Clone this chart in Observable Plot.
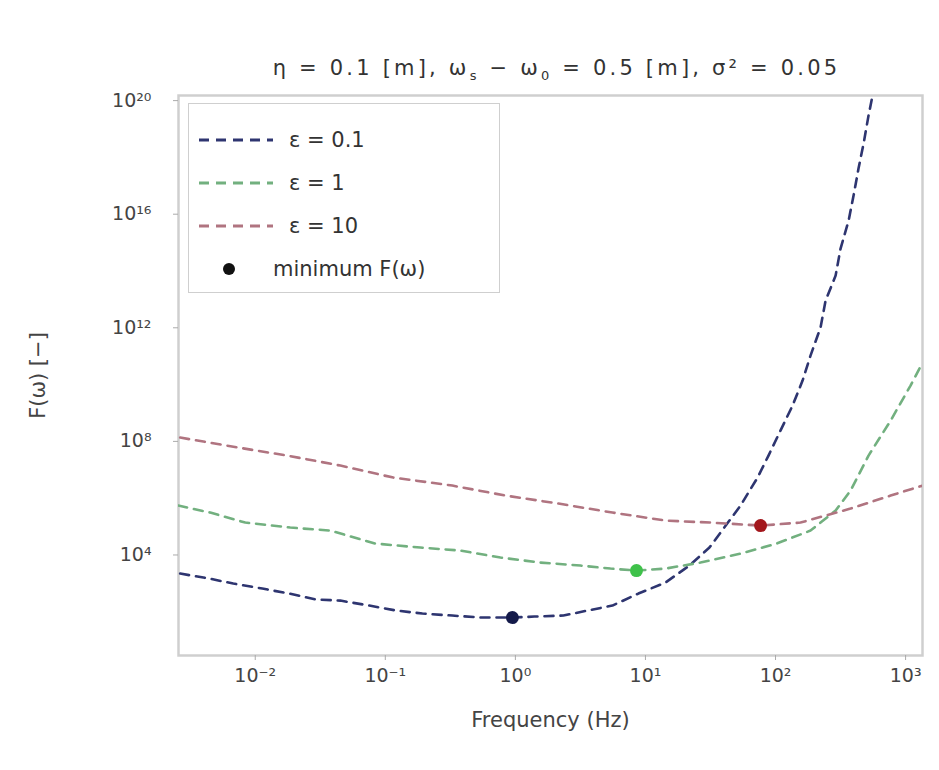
<!DOCTYPE html>
<html>
<head>
<meta charset="utf-8">
<script src="https://cdn.jsdelivr.net/npm/d3@7"></script>
<script src="https://cdn.jsdelivr.net/npm/@observablehq/plot@0.6"></script>
<style>
  body { margin: 0; background: #fff; font-family: "DejaVu Sans", sans-serif; }
  #wrap { position: relative; width: 939px; height: 770px; }
  #title { height: 80px; box-sizing: border-box; padding-top: 57px; padding-left: 178px; width: 935px;
           text-align: center; font-size: 21px; letter-spacing: 3.2px; color: #333; line-height: 22px; }
  #legend { position: absolute; left: 188px; top: 103px; width: 312px; height: 190px; box-sizing: border-box;
            border: 1.5px solid #cfcfcf; background: rgba(255,255,255,0.9); padding-top: 14px; }
  .row { display: flex; align-items: center; height: 43px; font-size: 21px; color: #333; }
  .row svg { margin-left: 8px; margin-right: 14px; }
</style>
</head>
<body>
<div id="wrap">
  <div id="title">η = 0.1 [m], ω<sub style="font-size:13px">s</sub> − ω<sub style="font-size:13px">0</sub> = 0.5 [m], σ² = 0.05</div>
  <div id="chart"></div>
  <div id="legend"></div>
</div>
<script>
// ---- data (log10 values) ----
const seriesNames = ["ε = 0.1", "ε = 1", "ε = 10"];
const seriesColors = ["#2e3570", "#72b07f", "#b07480"];
const dotColors = ["#141a4a", "#3fc24a", "#a3161c"];

const logFreq01 = [-2.577,-2.354,-2.169,-1.946,-1.738,-1.531,-1.346,-1.123,-0.915,-0.715,-0.485,-0.262,-0.023,0.146,0.369,0.554,0.746,0.946,1.154,1.338,1.492,1.731,1.862,1.946,2.038,2.131,2.208,2.269,2.346,2.385,2.462,2.500,2.562,2.600,2.638,2.677,2.715,2.746];
const logF01   = [3.345,3.169,2.993,2.817,2.641,2.430,2.394,2.218,2.042,1.937,1.866,1.796,1.796,1.831,1.866,2.042,2.218,2.641,3.028,3.627,4.261,5.739,6.725,7.500,8.380,9.261,10.141,11.021,12.007,12.958,13.838,14.789,15.775,16.655,17.606,18.486,19.472,20.176];

const logFreq1 = [-2.592,-2.346,-2.077,-1.731,-1.423,-1.077,-0.731,-0.423,-0.115,0.192,0.500,0.731,0.931,1.154,1.423,1.731,2.008,2.269,2.462,2.577,2.715,2.885,3.038,3.131];
const logF1   = [5.739,5.493,5.141,4.965,4.859,4.401,4.261,4.155,3.908,3.732,3.627,3.521,3.451,3.521,3.732,4.049,4.401,4.859,5.563,6.268,7.500,8.732,9.965,10.775];

const logFreq10 = [-2.577,-2.131,-1.754,-1.346,-0.938,-0.485,-0.077,0.331,0.746,1.154,1.500,1.885,2.192,2.577,2.885,3.131];
const logF10   = [8.134,7.782,7.500,7.148,6.725,6.444,6.092,5.810,5.493,5.211,5.141,5.035,5.141,5.634,6.092,6.444];

const minLogFreq = [-0.023, 0.931, 1.885];
const minLogF    = [1.796, 3.451, 5.035];

const xTicks = [-2, -1, 0, 1, 2, 3];
const yTicks = [4, 8, 12, 16, 20];
const legendMinLabel = "minimum F(ω)";

// ---- build tables ----
const sup = {"-":"⁻","0":"⁰","1":"¹","2":"²","3":"³","4":"⁴","5":"⁵","6":"⁶","7":"⁷","8":"⁸","9":"⁹"};
const pow10 = e => "10" + String(e).split("").map(c => sup[c]).join("");

const rawSeries = [[logFreq01, logF01], [logFreq1, logF1], [logFreq10, logF10]];
const lines = rawSeries.flatMap(([lx, ly], i) =>
  lx.map((v, j) => ({s: seriesNames[i], f: 10 ** v, F: 10 ** ly[j]})));
const mins = minLogFreq.map((v, i) => ({s: seriesNames[i], f: 10 ** v, F: 10 ** minLogF[i], c: dotColors[i]}));

const plot = Plot.plot({
  width: 939,
  height: 690,
  marginTop: 15,
  marginBottom: 115,
  marginLeft: 178,
  marginRight: 17,
  style: {fontFamily: "DejaVu Sans, sans-serif", fontSize: "19px", color: "#444", background: "transparent"},
  x: {type: "log", domain: [10 ** -2.59, 10 ** 3.13]},
  y: {type: "log", domain: [10 ** 0.46, 10 ** 20.18]},
  color: {domain: seriesNames, range: seriesColors},
  marks: [
    Plot.frame({stroke: "#cfcfcf", strokeWidth: 2.5}),
    Plot.axisX({ticks: xTicks.map(e => 10 ** e), tickFormat: d => pow10(Math.round(Math.log10(d))),
      tickSize: 5, tickPadding: 8, stroke: "#aaa", label: null, fontSize: 19}),
    Plot.axisX({ticks: [], label: "Frequency (Hz)", labelAnchor: "center", labelArrow: "none",
      labelOffset: 71, fontSize: 21}),
    Plot.axisY({ticks: yTicks.map(e => 10 ** e), tickFormat: d => pow10(Math.round(Math.log10(d))),
      tickSize: 5, tickPadding: 22, stroke: "#aaa", label: null, fontSize: 19}),
    Plot.axisY({ticks: [], label: "F(ω) [−]", labelAnchor: "center", labelArrow: "none",
      labelOffset: 148, fontSize: 21}),
    Plot.line(lines, {x: "f", y: "F", z: "s", stroke: "s", strokeWidth: 2.6, strokeDasharray: "9,7", clip: true}),
    Plot.dot(mins, {x: "f", y: "F", r: 6.5, fill: "c", stroke: "none"})
  ]
});
document.getElementById("chart").appendChild(plot);

// ---- legend ----
const leg = d3.select("#legend");
seriesNames.forEach((name, i) => {
  const row = leg.append("div").attr("class", "row");
  const s = row.append("svg").attr("width", 78).attr("height", 12);
  s.append("line").attr("x1", 2).attr("x2", 76).attr("y1", 6).attr("y2", 6)
    .attr("stroke", seriesColors[i]).attr("stroke-width", 2.8).attr("stroke-dasharray", "10,7");
  row.append("span").text(name);
});
const r4 = leg.append("div").attr("class", "row");
const s4 = r4.append("svg").attr("width", 62).attr("height", 14);
s4.append("circle").attr("cx", 32).attr("cy", 7).attr("r", 6).attr("fill", "#111");
r4.append("span").text(legendMinLabel);
</script>
</body>
</html>
